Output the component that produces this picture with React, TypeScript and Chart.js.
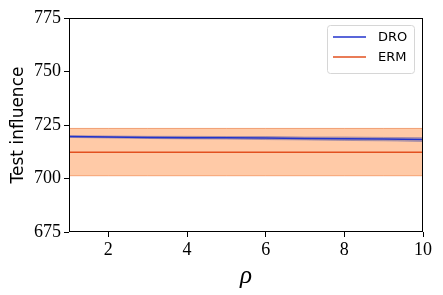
import React, { useEffect, useRef } from "react";
import { Chart, registerables } from "chart.js";

Chart.register(...registerables);

const rhoValues = [1, 2, 3, 4, 5, 6, 7, 8, 9, 10];
const droMean = [719.6, 719.4, 719.2, 719.1, 719.0, 718.9, 718.7, 718.6, 718.4, 718.2];
const droLower = [719.2, 718.9, 718.7, 718.5, 718.4, 718.2, 718.0, 717.8, 717.6, 717.3];
const droUpper = [720.0, 719.9, 719.7, 719.7, 719.6, 719.6, 719.4, 719.4, 719.2, 719.1];
const ermMean = [712.3, 712.3, 712.3, 712.3, 712.3, 712.3, 712.3, 712.3, 712.3, 712.3];
const ermLower = [701.3, 701.3, 701.3, 701.3, 701.3, 701.3, 701.3, 701.3, 701.3, 701.3];
const ermUpper = [723.4, 723.4, 723.4, 723.4, 723.4, 723.4, 723.4, 723.4, 723.4, 723.4];
const yTicks = [675, 700, 725, 750, 775];
const xTicks = [2, 4, 6, 8, 10];
const legendLabels = ["DRO", "ERM"];

const DRO_COLOR = "#2233cc";
const ERM_COLOR = "#e2501f";

const pts = (ys: number[]) => rhoValues.map((x, i) => ({ x, y: ys[i] }));

export default function App() {
  const ref = useRef<HTMLCanvasElement | null>(null);
  useEffect(() => {
    document.body.style.margin = "0";
    const canvas = ref.current!;
    const framePlugin = {
      id: "frameAndLegend",
      afterDraw(chart: any) {
        const { ctx, chartArea: a } = chart;
        ctx.save();
        ctx.strokeStyle = "#000";
        ctx.lineWidth = 1;
        ctx.strokeRect(a.left + 0.5, a.top + 0.5, a.right - a.left - 1, a.bottom - a.top - 1);
        // legend
        const bx = 327.5, by = 25.5, bw = 87, bh = 48;
        ctx.fillStyle = "rgba(255,255,255,0.85)";
        ctx.strokeStyle = "#d6d6d6";
        ctx.beginPath();
        ctx.roundRect(bx, by, bw, bh, 3);
        ctx.fill();
        ctx.stroke();
        const colors = [DRO_COLOR, ERM_COLOR];
        ctx.font = '13px "DejaVu Sans"';
        ctx.textBaseline = "middle";
        legendLabels.forEach((lab, i) => {
          const y = 37 + i * 20;
          ctx.strokeStyle = colors[i];
          ctx.lineWidth = 1.5;
          ctx.beginPath();
          ctx.moveTo(333, y);
          ctx.lineTo(366, y);
          ctx.stroke();
          ctx.fillStyle = "#000";
          ctx.fillText(lab, 378, y + 1);
        });
        ctx.restore();
      },
    };
    const chart = new Chart(canvas, {
      type: "line",
      data: {
        datasets: [
          { label: "droUpper", data: pts(droUpper), borderColor: "rgba(60,70,170,0.35)", borderWidth: 1, backgroundColor: "rgba(70,80,160,0.35)", fill: "+1", pointRadius: 0, order: 1 },
          { label: "droLower", data: pts(droLower), borderColor: "rgba(60,70,170,0.35)", borderWidth: 1, pointRadius: 0, fill: false, order: 1 },
          { label: "DRO", data: pts(droMean), borderColor: DRO_COLOR, borderWidth: 1.5, pointRadius: 0, fill: false, order: 0 },
          { label: "ermUpper", data: pts(ermUpper), borderColor: "rgba(230,110,50,0.6)", borderWidth: 1, backgroundColor: "rgba(255,150,80,0.5)", fill: "+1", pointRadius: 0, order: 3 },
          { label: "ermLower", data: pts(ermLower), borderColor: "rgba(230,110,50,0.6)", borderWidth: 1, pointRadius: 0, fill: false, order: 3 },
          { label: "ERM", data: pts(ermMean), borderColor: ERM_COLOR, borderWidth: 1.5, pointRadius: 0, fill: false, order: 2 },
        ],
      },
      options: {
        animation: false,
        responsive: false,
        layout: { padding: { top: 18, right: 20, left: 0, bottom: 0 } },
        plugins: { legend: { display: false }, tooltip: { enabled: false } },
        scales: {
          x: {
            type: "linear",
            min: 1,
            max: 10,
            afterFit: (s: any) => { s.height = 63; },
            afterBuildTicks: (s: any) => { s.ticks = xTicks.map((v) => ({ value: v })); },
            grid: { drawOnChartArea: false, tickLength: 5, color: "#000" },
            border: { display: false },
            ticks: { color: "#000", font: { family: "Liberation Serif", size: 18 }, padding: 2, maxRotation: 0 },
            title: { display: true, text: "ρ", color: "#000", font: { family: "Liberation Serif", size: 25, style: "italic" }, padding: { top: 0, bottom: 4 } },
          },
          y: {
            min: 675,
            max: 775,
            afterFit: (s: any) => { s.width = 69; },
            afterBuildTicks: (s: any) => { s.ticks = yTicks.map((v) => ({ value: v })); },
            grid: { drawOnChartArea: false, tickLength: 5, color: "#000" },
            border: { display: false },
            ticks: { color: "#000", font: { family: "Liberation Serif", size: 18 }, padding: 3 },
            title: { display: true, text: "Test influence", color: "#000", font: { family: "DejaVu Sans", size: 17 }, padding: { top: 8, bottom: 0 } },
          },
        },
      },
      plugins: [framePlugin],
    });
    return () => chart.destroy();
  }, []);
  return (
    <div style={{ width: 443, height: 295 }}>
      <canvas ref={ref} width={443} height={295} style={{ width: 443, height: 295 }} />
    </div>
  );
}
